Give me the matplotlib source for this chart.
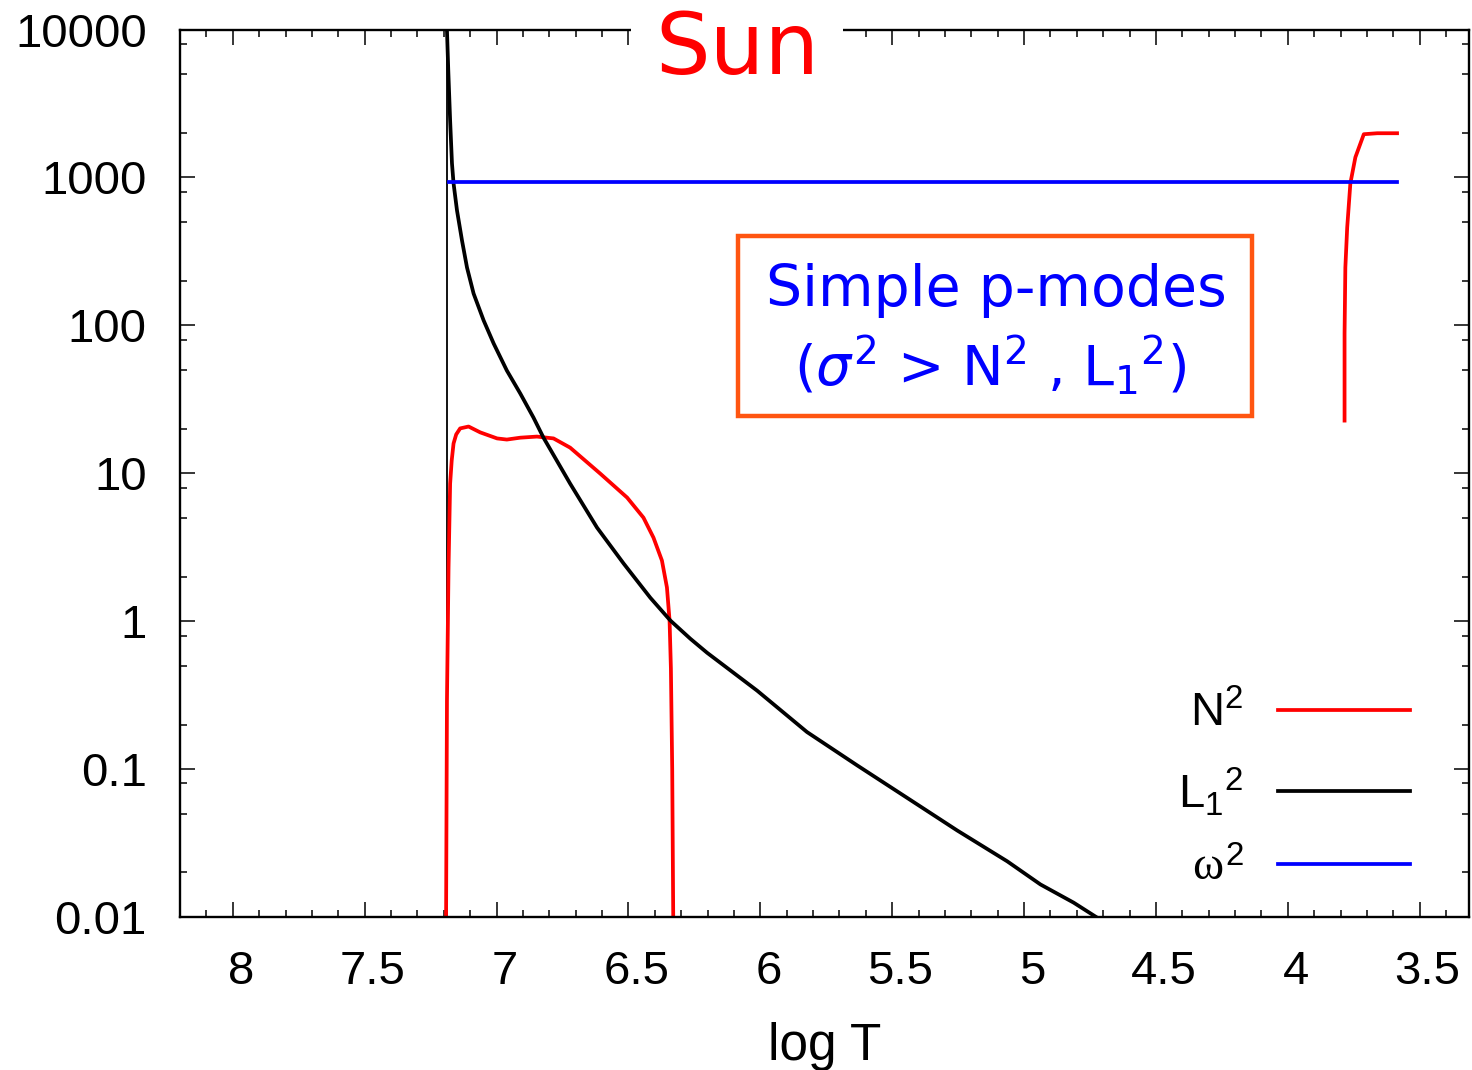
import numpy as np
import matplotlib
matplotlib.use("Agg")
import matplotlib.pyplot as plt
import matplotlib.ticker as mticker
import matplotlib.transforms as mtransforms
from matplotlib.patches import Rectangle

plt.rcParams['font.family'] = ['Liberation Sans', 'DejaVu Sans']
plt.rcParams['mathtext.fontset'] = 'custom'
plt.rcParams['mathtext.rm'] = 'Liberation Sans'
plt.rcParams['mathtext.it'] = 'Liberation Serif'

# N^2 (Brunt-Vaisala), radiative core part
logT_N_core = [7.192, 7.188, 7.182, 7.176, 7.170, 7.163, 7.153, 7.138, 7.106, 7.062,
               6.998, 6.961, 6.910, 6.847, 6.784, 6.721, 6.607, 6.505, 6.443, 6.405,
               6.373, 6.354, 6.344, 6.339, 6.334, 6.329]
N2_core = [0.005, 0.29, 2.3, 8.5, 12.2, 15.9, 18.3, 20.1, 20.7, 18.9,
           17.2, 16.9, 17.4, 17.7, 17.2, 14.9, 9.95, 6.85, 5.01, 3.67,
           2.57, 1.69, 1.01, 0.48, 0.10, 0.005]
# N^2 near the surface
logT_N_surf = [3.785, 3.785, 3.782, 3.775, 3.763, 3.744, 3.712, 3.661, 3.586]
N2_surf = [22.7, 88, 246, 459, 912, 1368, 1960, 1990, 1990]

# Lamb frequency L_1^2
logT_L = [7.189, 7.188, 7.183, 7.176, 7.169, 7.163, 7.150, 7.131, 7.112, 7.087,
          7.049, 7.011, 6.961, 6.910, 6.860, 6.822, 6.721, 6.619, 6.518, 6.417,
          6.341, 6.265, 6.202, 6.012, 5.823, 5.633, 5.444, 5.254, 5.064, 4.938,
          4.812, 4.723]
L2 = [20000, 9900, 5300, 2430, 1245, 912, 599, 375, 246, 164,
      108, 75.4, 49.5, 34.6, 23.8, 17.4, 8.51, 4.29, 2.45, 1.44,
      1.01, 0.76, 0.612, 0.339, 0.178, 0.106, 0.064, 0.0385, 0.0238, 0.0166,
      0.0125, 0.0099]

# mode frequency omega^2
logT_w = [7.179, 3.587]
w2 = [925, 925]

logT_center = 7.188

y_ticks = [1e-2, 1e-1, 1, 10, 100, 1000, 10000]
y_labels = ['0.01', '0.1', '1', '10', '100', '1000', '10000']
x_ticks = [8, 7.5, 7, 6.5, 6, 5.5, 5, 4.5, 4, 3.5]
x_labels = ['8', '7.5', '7', '6.5', '6', '5.5', '5', '4.5', '4', '3.5']

fig = plt.figure(figsize=(14.72, 10.70), dpi=100)
ax = fig.add_axes([0.1223, 0.143, 0.8757, 0.8294])

lw = 2.7
ax.axvline(logT_center, color='black', lw=1.3)
ax.plot(logT_N_core, N2_core, color='#ff0000', lw=lw, label=r'$\mathregular{N^2}$',
        solid_joinstyle='round')
ax.plot(logT_N_surf, N2_surf, color='#ff0000', lw=lw, solid_joinstyle='round')
ax.plot(logT_L, L2, color='black', lw=lw, label=r'$\mathregular{L_1{}^2}$',
        solid_joinstyle='round')
ax.plot(logT_w, w2, color='#0000ff', lw=lw, label=r'$\omega^{\mathregular{2}}$')

ax.set_yscale('log')
ax.set_ylim(0.01, 10000)
ax.set_xlim(8.2, 3.313)

ax.set_yticks(y_ticks)
ax.set_yticklabels(y_labels)
ax.yaxis.set_minor_locator(mticker.LogLocator(base=10, subs=[2, 5, 8]))
ax.yaxis.set_minor_formatter(mticker.NullFormatter())
ax.set_xticks(x_ticks)
ax.set_xticklabels(x_labels)
ax.xaxis.set_minor_locator(mticker.MultipleLocator(0.1))

ax.tick_params(which='both', direction='in', top=True, right=True, width=1.1)
ax.tick_params(which='major', length=11, labelsize=34, pad=24)
ax.tick_params(which='minor', length=5)
for s in ax.spines.values():
    s.set_linewidth(1.7)

shift = mtransforms.ScaledTranslation(0.08, 0, fig.dpi_scale_trans)
for lab in ax.get_xticklabels():
    lab.set_transform(lab.get_transform() + shift)

ax.set_xlabel('log T', fontsize=37, labelpad=20)

leg = ax.legend(loc='center right', bbox_to_anchor=(0.954, 0.142), frameon=False,
                markerfirst=False, fontsize=34, handlelength=2.8, handletextpad=0.72,
                labelspacing=0.6, borderpad=0, borderaxespad=0)

# annotation box
ax.add_patch(Rectangle((0.4329, 0.5645), 0.3988, 0.2028, transform=ax.transAxes,
                       fill=False, edgecolor='#ff5511', lw=3.2, zorder=5))
ax.text(0.633, 0.7065, 'Simple p-modes', transform=ax.transAxes, ha='center', va='center',
        fontsize=41, color='#0000ff', family='DejaVu Sans')
ax.text(0.628, 0.622, r'($\sigma^2$ > N$^2$ , L$_1$$^2$)', transform=ax.transAxes,
        ha='center', va='center', fontsize=40, color='#0000ff', family='DejaVu Sans',
        math_fontfamily='dejavusans')

fig.text(0.5007, 0.953, 'Sun', ha='center', va='center', fontsize=62, color='#ff0000',
         family='DejaVu Sans',
         bbox=dict(boxstyle='square,pad=0.28', fc='white', ec='none'))

fig.savefig('out.png', dpi=100)
